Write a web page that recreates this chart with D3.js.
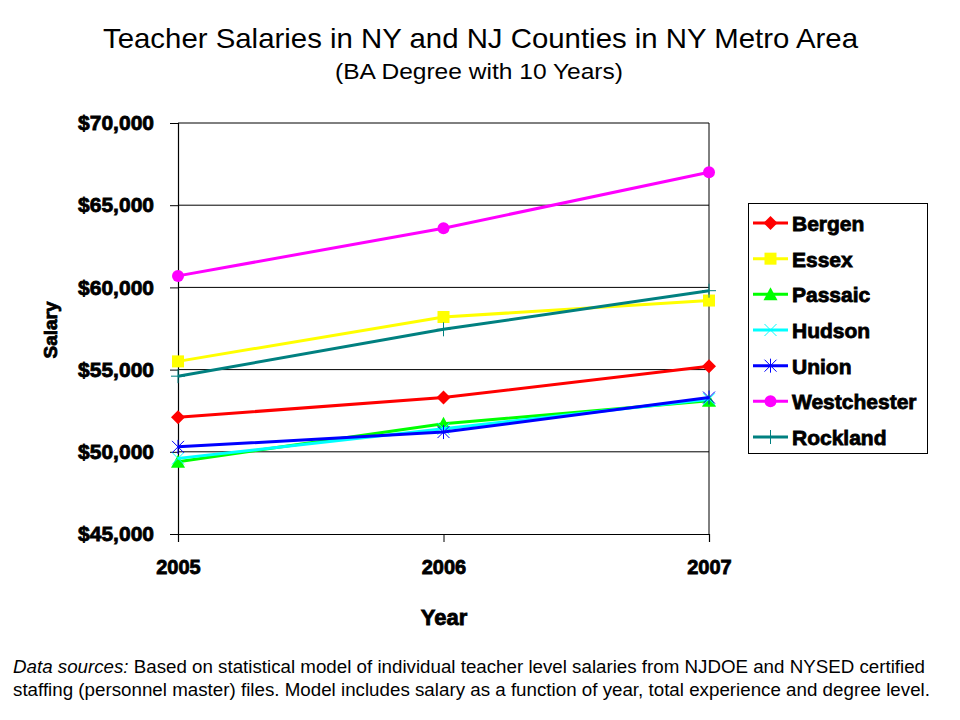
<!DOCTYPE html>
<html>
<head>
<meta charset="utf-8">
<script src="https://cdn.jsdelivr.net/npm/d3@7"></script>
<style>
  body { margin: 0; background: #fff; }
  text { font-family: "Liberation Sans", Arial, sans-serif; }
  .bold { font-weight: bold; }
</style>
</head>
<body>
<div id="chart"></div>
<script>
const years = [2005, 2006, 2007];
const yTicks = [45000, 50000, 55000, 60000, 65000, 70000];

const counties = ["Bergen", "Essex", "Passaic", "Hudson", "Union", "Westchester", "Rockland"];
const colors = ["#FF0000", "#FFFF00", "#00FF00", "#00FFFF", "#0000FF", "#FF00FF", "#008080"];
const markers = ["diamond", "square", "triangle", "x", "star", "circle", "plus"];

const bergen = [52100, 53300, 55200];
const essex = [55500, 58200, 59200];
const passaic = [49400, 51700, 53100];
const hudson = [49600, 51400, 53200];
const union = [50300, 51200, 53300];
const westchester = [60700, 63600, 67000];
const rockland = [54600, 57450, 59800];

const seriesValues = [bergen, essex, passaic, hudson, union, westchester, rockland];

const width = 960, height = 720;
const heavy = 0.8; // épaissit le gras
const svg = d3.select("#chart").append("svg")
  .attr("width", width)
  .attr("height", height);

const x = d3.scalePoint().domain(years).range([178, 709]);
const y = d3.scaleLinear().domain([45000, 70000]).range([534, 123]);

// titre
svg.append("text")
  .attr("x", 103).attr("y", 48)
  .attr("font-size", 28)
  .attr("textLength", 755).attr("lengthAdjust", "spacingAndGlyphs")
  .text("Teacher Salaries in NY and NJ Counties in NY Metro Area");
svg.append("text")
  .attr("x", 335).attr("y", 79)
  .attr("font-size", 21.5)
  .attr("textLength", 288).attr("lengthAdjust", "spacingAndGlyphs")
  .text("(BA Degree with 10 Years)");

// grille horizontale
svg.append("g")
  .selectAll("line")
  .data(yTicks.slice(1))
  .enter().append("line")
  .attr("x1", x(2005)).attr("x2", x(2007))
  .attr("y1", d => y(d)).attr("y2", d => y(d))
  .attr("stroke", "#000").attr("stroke-width", 1);

// bordure droite
svg.append("line")
  .attr("x1", x(2007)).attr("x2", x(2007))
  .attr("y1", y(70000)).attr("y2", y(45000))
  .attr("stroke", "#000");

// axes
const yAxis = svg.append("g")
  .attr("transform", `translate(${x(2005)},0)`)
  .call(d3.axisLeft(y).tickValues(yTicks).tickSize(8).tickPadding(16)
    .tickFormat(d => "$" + d3.format(",")(d)));
const xAxis = svg.append("g")
  .attr("transform", `translate(0,${y(45000)})`)
  .call(d3.axisBottom(x).tickSize(8).tickPadding(18).tickFormat(d3.format("d")));

[yAxis, xAxis].forEach(a => {
  a.select(".domain").attr("stroke", "#000").attr("stroke-width", 1.2);
  a.selectAll(".tick line").attr("stroke", "#000");
  a.selectAll(".tick text")
    .attr("fill", "#000")
    .attr("font-size", 21)
    .attr("font-weight", "bold")
    .attr("stroke", "#000").attr("stroke-width", heavy)
    .style("font-family", "'Liberation Sans', Arial, sans-serif");
});
xAxis.selectAll(".tick text").attr("font-size", 20);

// titres d'axes
svg.append("text")
  .attr("x", 444).attr("y", 625)
  .attr("text-anchor", "middle")
  .attr("class", "bold")
  .attr("font-size", 22)
  .attr("stroke", "#000").attr("stroke-width", heavy)
  .text("Year");
svg.append("text")
  .attr("transform", "translate(57,330) rotate(-90)")
  .attr("text-anchor", "middle")
  .attr("class", "bold")
  .attr("font-size", 19)
  .attr("stroke", "#000").attr("stroke-width", heavy)
  .text("Salary");

// marqueurs
function drawMarker(g, type, color, cx, cy) {
  if (type === "diamond") {
    g.append("path").attr("d", `M${cx},${cy - 7}L${cx + 7},${cy}L${cx},${cy + 7}L${cx - 7},${cy}Z`).attr("fill", color);
  } else if (type === "square") {
    g.append("rect").attr("x", cx - 6).attr("y", cy - 6).attr("width", 12).attr("height", 12).attr("fill", color);
  } else if (type === "triangle") {
    g.append("path").attr("d", `M${cx},${cy - 7}L${cx + 7},${cy + 6}L${cx - 7},${cy + 6}Z`).attr("fill", color);
  } else if (type === "circle") {
    g.append("circle").attr("cx", cx).attr("cy", cy).attr("r", 6).attr("fill", color);
  } else if (type === "x") {
    g.append("path").attr("d", `M${cx - 6},${cy - 6}L${cx + 6},${cy + 6}M${cx + 6},${cy - 6}L${cx - 6},${cy + 6}`)
      .attr("stroke", color).attr("stroke-width", 1);
  } else if (type === "star") {
    g.append("path").attr("d", `M${cx - 6},${cy - 6}L${cx + 6},${cy + 6}M${cx + 6},${cy - 6}L${cx - 6},${cy + 6}M${cx},${cy - 7}L${cx},${cy + 7}`)
      .attr("stroke", color).attr("stroke-width", 1);
  } else if (type === "plus") {
    g.append("path").attr("d", `M${cx - 7},${cy}L${cx + 7},${cy}M${cx},${cy - 7}L${cx},${cy + 7}`)
      .attr("stroke", color).attr("stroke-width", 1);
  }
}

const line = d3.line().x((d, i) => x(years[i])).y(d => y(d));

const seriesG = svg.append("g");
seriesValues.forEach((vals, k) => {
  const g = seriesG.append("g");
  g.append("path")
    .attr("d", line(vals))
    .attr("fill", "none")
    .attr("stroke", colors[k])
    .attr("stroke-width", 3);
  vals.forEach((v, i) => drawMarker(g, markers[k], colors[k], x(years[i]), y(v)));
});

// légende
const legend = svg.append("g");
legend.append("rect")
  .attr("x", 748.5).attr("y", 203.5).attr("width", 179).attr("height", 250)
  .attr("fill", "#fff").attr("stroke", "#000");
const ly = d3.scalePoint().domain(counties).range([223, 437]);
counties.forEach((c, k) => {
  const yy = ly(c);
  legend.append("line")
    .attr("x1", 753).attr("x2", 788).attr("y1", yy).attr("y2", yy)
    .attr("stroke", colors[k]).attr("stroke-width", 3);
  drawMarker(legend, markers[k], colors[k], 770.5, yy);
  legend.append("text")
    .attr("x", 792).attr("y", yy + 8)
    .attr("class", "bold")
    .attr("font-size", 21)
    .attr("stroke", "#000").attr("stroke-width", heavy)
    .text(c);
});

// note
const note = svg.append("text").attr("font-size", 17.5);
const l1 = note.append("tspan").attr("x", 13).attr("y", 673)
  .attr("textLength", 912).attr("lengthAdjust", "spacingAndGlyphs");
l1.append("tspan").attr("font-style", "italic").text("Data sources:");
l1.append("tspan").text(" Based on statistical model of individual teacher level salaries from NJDOE and NYSED certified");
note.append("tspan").attr("x", 13).attr("y", 696)
  .attr("textLength", 917).attr("lengthAdjust", "spacingAndGlyphs")
  .text("staffing (personnel master) files. Model includes salary as a function of year, total experience and degree level.");
</script>
</body>
</html>
